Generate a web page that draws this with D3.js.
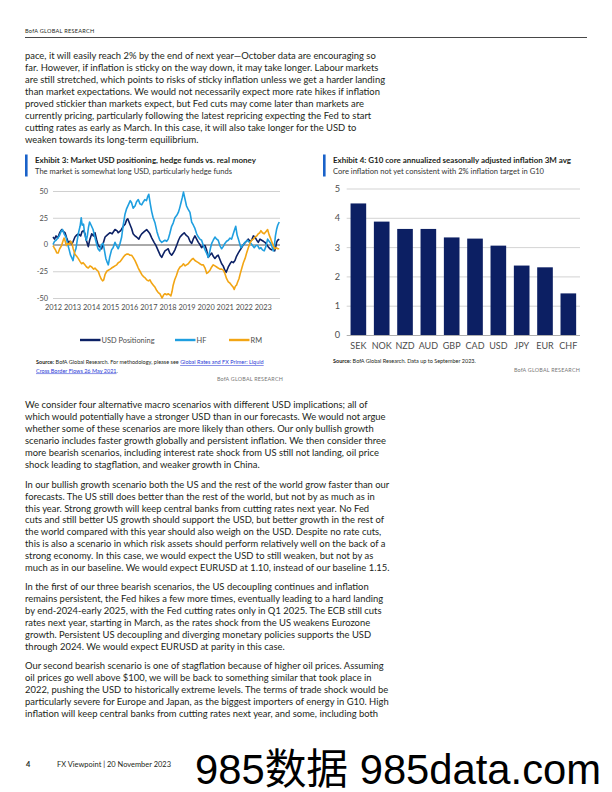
<!DOCTYPE html>
<html><head><meta charset="utf-8">
<script src="https://cdn.jsdelivr.net/npm/d3@7"></script>
<style>
body{margin:0;background:#fff;}
svg{display:block;font-family:Lato,"Noto Sans",sans-serif;}
</style></head><body>
<svg id="page" width="612" height="792"></svg>
<script>
// ---------------- DATA ----------------
const usdYears = [2012.00,2012.08,2012.16,2012.25,2012.35,2012.46,2012.55,2012.63,2012.72,2012.80,2012.90,2012.98,2013.06,2013.15,2013.25,2013.33,2013.45,2013.52,2013.60,2013.68,2013.73,2013.80,2013.85,2013.92,2014.03,2014.12,2014.20,2014.28,2014.37,2014.45,2014.55,2014.63,2014.73,2014.85,2014.99,2015.10,2015.25,2015.35,2015.42,2015.55,2015.68,2015.78,2015.86,2015.92,2016.03,2016.12,2016.20,2016.30,2016.38,2016.50,2016.58,2016.65,2016.78,2016.91,2017.00,2017.08,2017.18,2017.30,2017.40,2017.52,2017.62,2017.70,2017.78,2017.87,2017.95,2018.04,2018.12,2018.22,2018.30,2018.39,2018.50,2018.58,2018.66,2018.76,2018.88,2018.96,2019.09,2019.18,2019.27,2019.35,2019.44,2019.53,2019.62,2019.70,2019.79,2019.88,2019.97,2020.05,2020.14,2020.22,2020.32,2020.40,2020.49,2020.58,2020.66,2020.75,2020.84,2020.92,2021.01,2021.08,2021.19,2021.28,2021.36,2021.45,2021.54,2021.62,2021.71,2021.78,2021.85,2021.95,2022.03,2022.14,2022.24,2022.33,2022.41,2022.50,2022.59,2022.68,2022.76,2022.85,2022.94,2023.03,2023.11,2023.20,2023.28,2023.37,2023.46,2023.55,2023.62,2023.68,2023.72,2023.78,2023.86];
const usdValues = [7,5,8,6,11,14,12,11,6,2,3,0,3,7,9,10,8,12,13,10,5,1,-2,4,10,8,11,5,-1,-2,-4,1,7,9,11,10,14,13,11,13,17,19,23,24,19,15,10,8,7,5,8,10,12,14,12,10,6,2,-1,-6,-10,-12,-9,-6,-5,-4,-8,-10,-8,-5,0,4,7,9,11,9,7,3,1,5,8,5,2,0,-3,-1,-1,-5,-12,-10,-8,-11,-13,-11,-10,-14,-18,-20,-24,-26,-21,-18,-16,-17,-15,-11,-8,-6,-4,-1,1,3,5,3,4,8,7,4,2,5,4,3,2,0,-2,-4,-5,-4,-6,-2,2,4,5];

const hfYears = [2012.00,2012.08,2012.16,2012.25,2012.33,2012.42,2012.50,2012.58,2012.68,2012.76,2012.85,2012.92,2013.00,2013.05,2013.12,2013.20,2013.28,2013.35,2013.42,2013.48,2013.53,2013.60,2013.66,2013.75,2013.80,2013.86,2013.92,2014.00,2014.10,2014.18,2014.28,2014.36,2014.45,2014.55,2014.63,2014.70,2014.77,2014.85,2014.90,2014.97,2015.07,2015.15,2015.25,2015.33,2015.42,2015.50,2015.60,2015.68,2015.77,2015.85,2015.95,2016.05,2016.12,2016.20,2016.30,2016.38,2016.47,2016.56,2016.65,2016.74,2016.82,2016.90,2016.97,2017.02,2017.10,2017.17,2017.25,2017.35,2017.45,2017.52,2017.60,2017.70,2017.78,2017.87,2017.96,2018.04,2018.12,2018.22,2018.30,2018.39,2018.48,2018.57,2018.64,2018.71,2018.78,2018.84,2018.90,2019.00,2019.08,2019.18,2019.27,2019.36,2019.44,2019.53,2019.62,2019.70,2019.79,2019.88,2019.97,2020.05,2020.14,2020.20,2020.26,2020.32,2020.40,2020.49,2020.58,2020.66,2020.75,2020.84,2020.92,2021.01,2021.10,2021.19,2021.28,2021.36,2021.45,2021.54,2021.58,2021.65,2021.72,2021.80,2021.85,2021.94,2022.03,2022.12,2022.20,2022.30,2022.38,2022.46,2022.55,2022.64,2022.73,2022.82,2022.90,2022.98,2023.07,2023.16,2023.25,2023.33,2023.42,2023.50,2023.55,2023.60,2023.66,2023.72,2023.78,2023.86];
const hfValues = [0,3,4,6,8,12,14,10,7,1,-5,-10,-13,-15,-8,-4,5,12,17,25,18,19,10,4,8,16,21,18,14,8,1,-4,-6,0,1,-6,-13,-17,-19,-12,-5,-3,2,-1,-4,0,7,18,28,33,37,41,39,34,36,40,42,38,37,40,42,41,45,47,38,31,25,20,12,8,4,2,3,4,3,5,10,17,20,25,27,30,34,39,44,49,44,36,33,30,21,18,15,10,7,5,4,-1,-5,-8,-12,-8,-3,1,4,7,5,4,-1,-4,-2,1,3,4,6,5,10,15,17,9,5,0,-3,-1,1,3,4,2,1,-1,-3,-1,-1,-4,-3,-5,-6,-2,5,3,1,-3,-6,-2,8,14,18,21];

const rmYears = [2012.00,2012.06,2012.13,2012.20,2012.27,2012.35,2012.45,2012.52,2012.58,2012.64,2012.70,2012.78,2012.85,2012.92,2012.98,2013.06,2013.15,2013.24,2013.32,2013.42,2013.50,2013.58,2013.67,2013.76,2013.85,2013.94,2014.03,2014.12,2014.20,2014.30,2014.37,2014.45,2014.52,2014.60,2014.66,2014.73,2014.82,2014.90,2015.00,2015.07,2015.16,2015.25,2015.34,2015.42,2015.52,2015.60,2015.68,2015.77,2015.86,2015.95,2016.04,2016.12,2016.20,2016.30,2016.40,2016.47,2016.56,2016.65,2016.74,2016.82,2016.91,2017.00,2017.08,2017.17,2017.26,2017.35,2017.44,2017.52,2017.60,2017.66,2017.72,2017.80,2017.87,2017.96,2018.04,2018.12,2018.18,2018.24,2018.30,2018.38,2018.47,2018.56,2018.66,2018.75,2018.84,2018.92,2019.00,2019.09,2019.18,2019.27,2019.35,2019.44,2019.53,2019.62,2019.70,2019.79,2019.88,2019.97,2020.06,2020.14,2020.23,2020.32,2020.40,2020.49,2020.58,2020.66,2020.75,2020.84,2020.93,2021.01,2021.10,2021.19,2021.27,2021.36,2021.45,2021.50,2021.56,2021.62,2021.68,2021.75,2021.82,2021.90,2021.98,2022.07,2022.15,2022.24,2022.32,2022.41,2022.50,2022.59,2022.68,2022.76,2022.84,2022.90,2022.98,2023.07,2023.16,2023.25,2023.33,2023.42,2023.50,2023.55,2023.62,2023.70,2023.78,2023.86];
const rmValues = [-1,-3,-5,-8,-8,-4,-1,3,6,3,-1,1,0,3,2,-4,-9,-11,-13,-16,-18,-17,-19,-21,-22,-20,-21,-23,-22,-24,-25,-29,-32,-34,-33,-28,-25,-24,-23,-22,-21,-20,-19,-17,-16,-14,-12,-10,-9,-9,-10,-10,-12,-15,-19,-22,-25,-28,-30,-31,-33,-34,-33,-36,-38,-40,-43,-45,-46,-48,-50,-47,-46,-47,-46,-47,-48,-44,-38,-33,-29,-24,-21,-20,-18,-20,-19,-18,-16,-14,-13,-15,-16,-17,-18,-19,-19,-22,-27,-26,-24,-21,-19,-20,-21,-22,-23,-23,-24,-27,-32,-35,-36,-38,-40,-42,-39,-38,-35,-32,-27,-22,-17,-13,-8,-3,1,4,5,7,8,10,11,13,11,10,12,14,9,5,1,-1,-4,-3,-4,-4];

const seriesNames = ["USD Positioning","HF","RM"];
const seriesColors = ["#0c2165","#1f9fe0","#f2a514"];
const ex3YTicks = [50,25,0,-25,-50];
const ex3XTicks = [2012,2013,2014,2015,2016,2017,2018,2019,2020,2021,2022,2023];

const g10Currencies = ["SEK","NOK","NZD","AUD","GBP","CAD","USD","JPY","EUR","CHF"];
const g10Inflation = [4.49,3.87,3.62,3.62,3.33,3.29,3.05,2.37,2.31,1.42];
const ex4YTicks = [0,1,2,3,4,5];

const paraA = [
"pace, it will easily reach 2% by the end of next year\u2014October data are encouraging so",
"far. However, if inflation is sticky on the way down, it may take longer. Labour markets",
"are still stretched, which points to risks of sticky inflation unless we get a harder landing",
"than market expectations. We would not necessarily expect more rate hikes if inflation",
"proved stickier than markets expect, but Fed cuts may come later than markets are",
"currently pricing, particularly following the latest repricing expecting the Fed to start",
"cutting rates as early as March. In this case, it will also take longer for the USD to",
"weaken towards its long-term equilibrium."];
const paraB = [
"We consider four alternative macro scenarios with different USD implications; all of",
"which would potentially have a stronger USD than in our forecasts. We would not argue",
"whether some of these scenarios are more likely than others. Our only bullish growth",
"scenario includes faster growth globally and persistent inflation. We then consider three",
"more bearish scenarios, including interest rate shock from US still not landing, oil price",
"shock leading to stagflation, and weaker growth in China."];
const paraC = [
"In our bullish growth scenario both the US and the rest of the world grow faster than our",
"forecasts. The US still does better than the rest of the world, but not by as much as in",
"this year. Strong growth will keep central banks from cutting rates next year. No Fed",
"cuts and still better US growth should support the USD, but better growth in the rest of",
"the world compared with this year should also weigh on the USD. Despite no rate cuts,",
"this is also a scenario in which risk assets should perform relatively well on the back of a",
"strong economy. In this case, we would expect the USD to still weaken, but not by as",
"much as in our baseline. We would expect EURUSD at 1.10, instead of our baseline 1.15."];
const paraD = [
"In the first of our three bearish scenarios, the US decoupling continues and inflation",
"remains persistent, the Fed hikes a few more times, eventually leading to a hard landing",
"by end-2024-early 2025, with the Fed cutting rates only in Q1 2025. The ECB still cuts",
"rates next year, starting in March, as the rates shock from the US weakens Eurozone",
"growth. Persistent US decoupling and diverging monetary policies supports the USD",
"through 2024. We would expect EURUSD at parity in this case."];
const paraE = [
"Our second bearish scenario is one of stagflation because of higher oil prices. Assuming",
"oil prices go well above $100, we will be back to something similar that took place in",
"2022, pushing the USD to historically extreme levels. The terms of trade shock would be",
"particularly severe for Europe and Japan, as the biggest importers of energy in G10. High",
"inflation will keep central banks from cutting rates next year, and some, including both"];

// ---------------- PAGE ----------------
const svg = d3.select("#page");
const TXT = "#231f20", GREY = "#4d4d4d", ACCENT = "#1a62c9";

svg.append("text").attr("x",25).attr("y",33).attr("font-size",5.6).attr("letter-spacing",0.25)
  .attr("fill",TXT).text("BofA GLOBAL RESEARCH");
svg.append("line").attr("x1",25).attr("x2",587).attr("y1",37.5).attr("y2",37.5)
  .attr("stroke","#333").attr("stroke-width",0.9);

const LH = 11.9;
const paraGroups = [];
function paragraph(lines, y0){
  const g = svg.append("g").attr("font-size",9.6).attr("fill",TXT);
  lines.forEach((l,i)=>g.append("text").attr("x",0).attr("y",y0+i*LH).text(l));
  paraGroups.push(g);
  return g;
}
const gA = paragraph(paraA, 59.5);
paragraph(paraB, 408.5);
paragraph(paraC, 487.8);
paragraph(paraD, 590.3);
paragraph(paraE, 669.5);
const natural = gA.select("text").node().getComputedTextLength();
const kx = 351 / natural;
paraGroups.forEach(g=>g.attr("transform",`translate(25,0) scale(${kx},1)`));

// ---------- Exhibit titles ----------
function exhibitHeader(x, title, sub, titleW, subW){
  svg.append("rect").attr("x",x-10).attr("y",154.5).attr("width",2.6).attr("height",22).attr("fill",ACCENT);
  svg.append("text").attr("x",x).attr("y",163).attr("font-size",8.4).attr("font-weight",700)
    .attr("fill",TXT).attr("textLength",titleW).attr("lengthAdjust","spacingAndGlyphs").text(title);
  svg.append("text").attr("x",x).attr("y",173.5).attr("font-size",8.2)
    .attr("fill","#333").attr("textLength",subW).attr("lengthAdjust","spacingAndGlyphs").text(sub);
}
exhibitHeader(35,"Exhibit 3: Market USD positioning, hedge funds vs. real money",
  "The market is somewhat long USD, particularly hedge funds",221,197);
exhibitHeader(333,"Exhibit 4: G10 core annualized seasonally adjusted inflation 3M avg",
  "Core inflation not yet consistent with 2% inflation target in G10",238,211);

// ---------- Exhibit 3: line chart ----------
const x3 = d3.scaleLinear().domain([2012, 2023.9]).range([53, 280]);
const y3 = d3.scaleLinear().domain([-50, 50]).range([298, 191]);

const gy3 = svg.append("g").attr("transform","translate(53,0)")
  .call(d3.axisLeft(y3).tickValues(ex3YTicks).tickSize(-(280-53)).tickPadding(5).tickFormat(d=>String(d)));
gy3.select(".domain").remove();
gy3.selectAll(".tick line").attr("stroke",d=>d===0?"#555":"#c4c4c4").attr("stroke-width",d=>d===0?1:0.8);
gy3.selectAll(".tick text").attr("font-size",7.4).attr("fill",GREY).attr("font-family","Lato");

const gx3 = svg.append("g").attr("transform","translate(0,298)")
  .call(d3.axisBottom(x3).tickValues(ex3XTicks).tickSize(0).tickPadding(7).tickFormat(d=>String(d)));
gx3.select(".domain").remove();
gx3.selectAll(".tick text").attr("font-size",7.4).attr("fill",GREY).attr("font-family","Lato");

const seriesData = [[usdYears,usdValues],[hfYears,hfValues],[rmYears,rmValues]];
const line3 = d3.line().x(d=>x3(d[0])).y(d=>y3(d[1])).curve(d3.curveLinear);
seriesData.forEach(([ys,vs],k)=>{
  const pts = ys.map((yr,i)=>[yr,vs[i]]);
  svg.append("path").datum(pts).attr("d",line3).attr("fill","none")
    .attr("stroke",seriesColors[k]).attr("stroke-width",1.6).attr("stroke-linejoin","round");
});

// legend
const legendX = [80,175,229];
seriesNames.forEach((n,k)=>{
  svg.append("line").attr("x1",legendX[k]).attr("x2",legendX[k]+20.5).attr("y1",340).attr("y2",340)
    .attr("stroke",seriesColors[k]).attr("stroke-width",2.4);
  svg.append("text").attr("x",legendX[k]+21.5).attr("y",342.6).attr("font-size",7.4)
    .attr("fill",GREY).text(n);
});

// source ex3
const s3 = svg.append("text").attr("x",36).attr("y",364).attr("font-size",5.5).attr("fill",TXT);
s3.append("tspan").attr("font-weight",700).text("Source:");
s3.append("tspan").text("  BofA Global Research. For methodology,  please see ");
s3.append("tspan").attr("fill","#2a3bd6").attr("text-decoration","underline").text("Global Rates and FX Primer: Liquid");
const s3b = svg.append("text").attr("x",36).attr("y",372.5).attr("font-size",5.5).attr("fill",TXT);
s3b.append("tspan").attr("fill","#2a3bd6").attr("text-decoration","underline").text("Cross Border Flows 26 May 2021");
s3b.append("tspan").text(".");
svg.append("text").attr("x",283).attr("y",381).attr("text-anchor","end").attr("font-size",5.4)
  .attr("letter-spacing",0.2).attr("fill","#777").text("BofA GLOBAL RESEARCH");

// ---------- Exhibit 4: bar chart ----------
const x4 = d3.scaleBand().domain(g10Currencies).range([346.7, 580]).paddingInner(0.33).paddingOuter(0.165);
const y4 = d3.scaleLinear().domain([0,5]).range([335, 188.5]);

const gy4 = svg.append("g").attr("transform","translate(346.7,0)")
  .call(d3.axisLeft(y4).tickValues(ex4YTicks).tickSize(-(580-346.7)).tickPadding(6.5).tickFormat(d3.format("d")));
gy4.select(".domain").remove();
gy4.selectAll(".tick line").attr("stroke",d=>d===0?"#999":"#c8c8c8").attr("stroke-width",0.8);
gy4.selectAll(".tick text").attr("font-size",9.2).attr("fill",GREY).attr("font-family","Lato");

svg.append("g").selectAll("rect").data(g10Currencies).join("rect")
  .attr("x",d=>x4(d)).attr("width",x4.bandwidth())
  .attr("y",(d,i)=>y4(g10Inflation[i])).attr("height",(d,i)=>y4(0)-y4(g10Inflation[i]))
  .attr("fill","#0c1f63");

const gx4 = svg.append("g").attr("transform","translate(0,335)")
  .call(d3.axisBottom(x4).tickSize(0).tickPadding(8));
gx4.select(".domain").remove();
gx4.selectAll(".tick text").attr("font-size",9).attr("fill",GREY).attr("font-family","Lato");

const s4 = svg.append("text").attr("x",333).attr("y",363).attr("font-size",5.5).attr("fill",TXT);
s4.append("tspan").attr("font-weight",700).text("Source:");
s4.append("tspan").text("  BofA Global Research. Data up to September  2023.");
svg.append("text").attr("x",580).attr("y",372).attr("text-anchor","end").attr("font-size",5.4)
  .attr("letter-spacing",0.2).attr("fill","#777").text("BofA GLOBAL RESEARCH");

// ---------- footer ----------
svg.append("text").attr("x",26).attr("y",767).attr("font-size",7.4).attr("font-weight",700).attr("fill",TXT).text("4");
svg.append("text").attr("x",57).attr("y",767).attr("font-size",7.2).attr("fill",TXT)
  .attr("textLength",114).attr("lengthAdjust","spacingAndGlyphs").text("FX Viewpoint | 20 November 2023");
svg.append("text").attr("x",195).attr("y",784).attr("font-size",42)
  .attr("font-family","'Liberation Sans','Noto Sans CJK SC',sans-serif").attr("fill","#000")
  .attr("textLength",406).attr("lengthAdjust","spacingAndGlyphs").text("985数据 985data.com");
</script>
</body></html>
